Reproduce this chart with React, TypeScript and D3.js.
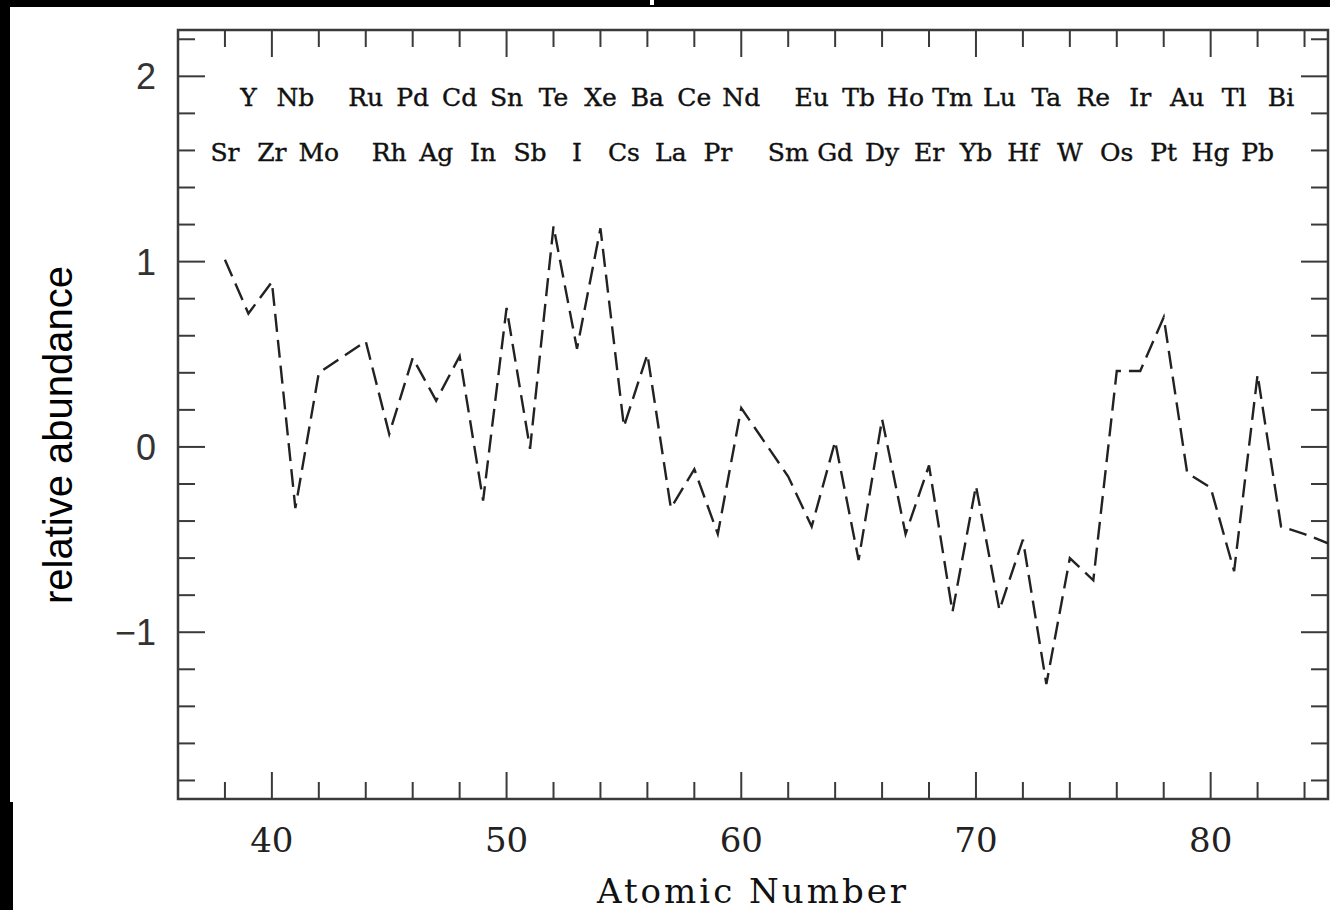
import React from "react";
import * as d3 from "d3";

const atomicNumbers = [38, 39, 40, 41, 42, 44, 45, 46, 47, 48, 49, 50, 51, 52, 53, 54, 55, 56, 57, 58, 59, 60, 62, 63, 64, 65, 66, 67, 68, 69, 70, 71, 72, 73, 74, 75, 76, 77, 78, 79, 80, 81, 82, 83, 84, 85];
const abundance = [1.01, 0.72, 0.89, -0.33, 0.4, 0.57, 0.07, 0.48, 0.25, 0.49, -0.29, 0.75, -0.01, 1.19, 0.53, 1.18, 0.11, 0.5, -0.33, -0.12, -0.47, 0.21, -0.16, -0.43, 0.03, -0.61, 0.15, -0.47, -0.1, -0.89, -0.21, -0.88, -0.5, -1.28, -0.6, -0.72, 0.41, 0.41, 0.7, -0.14, -0.22, -0.67, 0.39, -0.43, -0.47, -0.52];

const upperElements = ["Y", "Nb", "Ru", "Pd", "Cd", "Sn", "Te", "Xe", "Ba", "Ce", "Nd", "Eu", "Tb", "Ho", "Tm", "Lu", "Ta", "Re", "Ir", "Au", "Tl", "Bi"];
const upperZ = [39, 41, 44, 46, 48, 50, 52, 54, 56, 58, 60, 63, 65, 67, 69, 71, 73, 75, 77, 79, 81, 83];
const lowerElements = ["Sr", "Zr", "Mo", "Rh", "Ag", "In", "Sb", "I", "Cs", "La", "Pr", "Sm", "Gd", "Dy", "Er", "Yb", "Hf", "W", "Os", "Pt", "Hg", "Pb"];
const lowerZ = [38, 40, 42, 45, 47, 49, 51, 53, 55, 57, 59, 62, 64, 66, 68, 70, 72, 74, 76, 78, 80, 82];

const xTickLabels = [40, 50, 60, 70, 80];
const yTickLabels = [2, 1, 0, -1];

const W = 1330;
const H = 910;
const L = 178, R = 1328, T = 30, B = 799;

export default function App() {
  const x = d3.scaleLinear().domain([36, 85]).range([L, R]);
  const y = d3.scaleLinear().domain([-1.9, 2.25]).range([B, T]);

  const xMinor = d3.range(38, 85, 2);
  const yMinor = d3.range(-18, 23, 2).map((v) => v / 10);

  const pts = atomicNumbers.map((z, i) => [z, abundance[i]] as [number, number]);
  const line = d3.line<[number, number]>().x((d) => x(d[0])).y((d) => y(d[1]));

  const axisColor = "#3a3a3a";
  const isMajorX = (v: number) => v % 10 === 0;
  const isMajorY = (v: number) => Math.abs(v - Math.round(v)) < 1e-6;

  return (
    <svg width={W} height={H} style={{ position: "absolute", left: 0, top: 0, display: "block" }}>
      <rect x={0} y={0} width={W} height={H} fill="#000" />
      <rect x={10} y={7} width={W - 10} height={795} fill="#fff" />
      <rect x={13} y={802} width={W - 13} height={H - 802} fill="#fff" />
      <rect x={650} y={0} width={4} height={5} fill="#fff" />

      <defs>
        <clipPath id="plotclip">
          <rect x={L} y={T} width={R - L} height={B - T} />
        </clipPath>
      </defs>

      {/* ticks */}
      <g stroke={axisColor} strokeWidth={2}>
        {xMinor.map((v) => {
          const len = isMajorX(v) ? 27 : 17;
          return (
            <g key={"xt" + v}>
              <line x1={x(v)} x2={x(v)} y1={B} y2={B - len} />
              <line x1={x(v)} x2={x(v)} y1={T} y2={T + len} />
            </g>
          );
        })}
        {yMinor.map((v) => {
          const len = isMajorY(v) ? 27 : 17;
          return (
            <g key={"yt" + v}>
              <line x1={L} x2={L + len} y1={y(v)} y2={y(v)} />
              <line x1={R} x2={R - len} y1={y(v)} y2={y(v)} />
            </g>
          );
        })}
      </g>
      <rect x={L} y={T} width={R - L} height={B - T} fill="none" stroke={axisColor} strokeWidth={2.5} />

      {/* data line */}
      <path
        d={line(pts) || ""}
        fill="none"
        stroke="#222"
        strokeWidth={2.4}
        strokeDasharray="18 8"
        clipPath="url(#plotclip)"
      />

      {/* element labels */}
      <g fontFamily="'DejaVu Serif', serif" fontSize={25} fill="#111" stroke="#111" strokeWidth={0.4} textAnchor="middle">
        {upperElements.map((el, i) => (
          <text key={"u" + el} x={x(upperZ[i])} y={106}>{el}</text>
        ))}
        {lowerElements.map((el, i) => (
          <text key={"l" + el} x={x(lowerZ[i])} y={161}>{el}</text>
        ))}
      </g>

      {/* y tick labels */}
      <g fontFamily="'Liberation Sans', Arial, sans-serif" fontSize={36} fill="#333" textAnchor="end">
        {yTickLabels.map((v) => (
          <text key={"yl" + v} x={156} y={y(v) + 13}>{v < 0 ? "\u2212" + Math.abs(v) : String(v)}</text>
        ))}
      </g>

      {/* x tick labels */}
      <g fontFamily="'DejaVu Serif', serif" fontSize={34} fill="#222" textAnchor="middle">
        {xTickLabels.map((v) => (
          <text key={"xl" + v} x={x(v)} y={852}>{v}</text>
        ))}
      </g>

      <text x={(L + R) / 2} y={903} textAnchor="middle" fontFamily="'DejaVu Serif', serif" fontSize={34} letterSpacing={3} fill="#111">
        Atomic Number
      </text>

      <text transform={`translate(72, 435) rotate(-90)`} textAnchor="middle" fontFamily="'Liberation Sans', Arial, sans-serif" fontSize={40} fill="#000">
        relative abundance
      </text>
    </svg>
  );
}
